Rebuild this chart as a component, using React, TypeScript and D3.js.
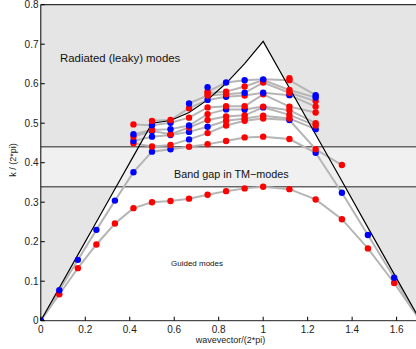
import React from "react";
import * as d3 from "d3";

// k-path positions (wavevector / 2pi)
const kPath = [0, 0.0833, 0.1667, 0.25, 0.3333, 0.4167, 0.5, 0.5833, 0.6667, 0.75, 0.8333, 0.9167, 1.0, 1.118, 1.236, 1.354, 1.471, 1.589, 1.707];

// light line value at each k-point
const lightLine = [0, 0.0833, 0.1667, 0.25, 0.3333, 0.4167, 0.5, 0.5069, 0.527, 0.559, 0.601, 0.651, 0.7071, 0.5893, 0.4714, 0.3536, 0.2357, 0.1179, 0];

// mode frequencies per k-point (sorted ascending)
const freqs: number[][] = [
  [0, 0],
  [0.067, 0.077],
  [0.133, 0.154],
  [0.193, 0.23],
  [0.246, 0.304],
  [0.285, 0.376, 0.449, 0.455, 0.466, 0.472, 0.497],
  [0.3, 0.428, 0.441, 0.466, 0.48, 0.483, 0.495, 0.506],
  [0.303, 0.434, 0.445, 0.47, 0.472, 0.485, 0.501, 0.508],
  [0.309, 0.4405, 0.459, 0.478, 0.489, 0.494, 0.514, 0.538, 0.55],
  [0.319, 0.447, 0.475, 0.491, 0.508, 0.523, 0.54, 0.559, 0.57, 0.576, 0.58, 0.591],
  [0.328, 0.455, 0.494, 0.506, 0.517, 0.535, 0.543, 0.567, 0.573, 0.58, 0.603],
  [0.335, 0.464, 0.506, 0.512, 0.52, 0.535, 0.543, 0.57, 0.577, 0.593, 0.609],
  [0.339, 0.466, 0.512, 0.519, 0.54, 0.542, 0.573, 0.577, 0.603, 0.609, 0.611],
  [0.333, 0.46, 0.508, 0.512, 0.521, 0.533, 0.542, 0.571, 0.577, 0.584, 0.609, 0.614],
  [0.307, 0.425, 0.434, 0.485, 0.494, 0.5, 0.527, 0.542, 0.556, 0.565, 0.571],
  [0.257, 0.324, 0.394],
  [0.183, 0.217],
  [0.0955, 0.109],
  [0, 0],
];

// symmetry of each mode: r = red, b = blue
const parity = [
  "rb", "rb", "rb", "rb", "rb",
  "rbrbrbr", "rbrbbrbr", "rbrbrbbr", "rrbbrbrrb", "rrrbrrrbrrrb",
  "rrrrrbrbrrb", "rrrrrbrrbrb", "rrrrbrrbrrb", "rrbrrrrbrrrr", "rbrbrrrrrbb",
  "rbr", "rb", "rb", "rb",
];

const gapBounds = [0.339, 0.4405];
const xTicks = [0, 0.2, 0.4, 0.6, 0.8, 1, 1.2, 1.4, 1.6];
const yTicks = [0, 0.1, 0.2, 0.3, 0.4, 0.5, 0.6, 0.7, 0.8];

const W = 416;
const H = 349;
const FONT = "'Liberation Sans', Arial, Helvetica, sans-serif";

export default function App() {
  const x = d3.scaleLinear().domain([0, 1.6]).range([40.8, 396.6]);
  const y = d3.scaleLinear().domain([0, 0.8]).range([320.7, 4.7]);
  const left = x(0), right = W, top = y(0.8), bottom = y(0);

  const nBands = d3.max(freqs, (f) => f.length) as number;
  const line = d3.line<[number, number]>().x((d) => x(d[0])).y((d) => y(d[1]));

  // build band segments by rank
  const segs: [number, number][][] = [];
  for (let b = 0; b < nBands; b++) {
    let cur: [number, number][] = [];
    for (let i = 0; i < kPath.length; i++) {
      const v = freqs[i][b];
      if (v === undefined) {
        if (cur.length > 1) segs.push(cur);
        cur = [];
      } else cur.push([kPath[i], v]);
    }
    if (cur.length > 1) segs.push(cur);
  }

  const lightPts: [number, number][] = kPath.map((k, i) => [k, lightLine[i]]);
  const conePath = line(lightPts) + "Z";

  const dots: { k: number; v: number; c: string }[] = [];
  kPath.forEach((k, i) => {
    freqs[i].forEach((v, j) => dots.push({ k, v, c: parity[i][j] === "r" ? "#ff0000" : "#0000ff" }));
  });

  return (
    <svg width={W} height={H} style={{ position: "absolute", left: 0, top: 0, background: "#fff" }}>
      <defs>
        <clipPath id="plot">
          <rect x={left} y={top} width={right - left} height={bottom - top} />
        </clipPath>
      </defs>
      <g clipPath="url(#plot)">
        <rect x={left} y={top} width={right - left} height={bottom - top} fill="#e5e5e5" />
        <path d={conePath} fill="#ffffff" />
        <rect x={left} y={y(gapBounds[1])} width={right - left} height={y(gapBounds[0]) - y(gapBounds[1])} fill="#f0f0f0" />
        {gapBounds.map((g, i) => (
          <line key={i} x1={left} x2={right} y1={y(g)} y2={y(g)} stroke="#666" strokeWidth={1.5} />
        ))}
        {segs.map((s, i) => (
          <path key={i} d={line(s) as string} fill="none" stroke="#b5b5b5" strokeWidth={2} />
        ))}
        <path d={line(lightPts) as string} fill="none" stroke="#000" strokeWidth={1.2} />
        {dots.map((d, i) => (
          <circle key={i} cx={x(d.k)} cy={y(d.v)} r={3.2} fill={d.c} />
        ))}
      </g>
      {/* axes frame */}
      <line x1={left} x2={right} y1={top} y2={top} stroke="#000" strokeWidth={1} />
      <line x1={left} x2={left} y1={top} y2={bottom} stroke="#000" strokeWidth={1} />
      <line x1={left} x2={right} y1={bottom} y2={bottom} stroke="#222" strokeWidth={1} />
      {xTicks.map((t) => (
        <g key={t}>
          <line x1={x(t)} x2={x(t)} y1={bottom} y2={bottom - 4} stroke="#000" />
          <text x={x(t)} y={333} fontSize={10} fontFamily={FONT} textAnchor="middle" fill="#222">
            {String(t)}
          </text>
        </g>
      ))}
      {yTicks.map((t) => (
        <g key={t}>
          <line x1={left} x2={left + 4} y1={y(t)} y2={y(t)} stroke="#000" />
          <text x={38.5} y={y(t) + 3.5} fontSize={10} fontFamily={FONT} textAnchor="end" fill="#222">
            {String(t)}
          </text>
        </g>
      ))}
      <text x={230.5} y={343} fontSize={9} fontFamily={FONT} textAnchor="middle" fill="#222">
        wavevector/(2*pi)
      </text>
      <text transform="translate(16,160) rotate(-90)" fontSize={9} fontFamily={FONT} textAnchor="middle" fill="#222">
        k / (2*pi)
      </text>
      <text x={60} y={62} fontSize={11.4} fontFamily={FONT} fill="#111">
        Radiated (leaky) modes
      </text>
      <text x={174} y={178} fontSize={10.8} fontFamily={FONT} fill="#111">
        Band gap in TM−modes
      </text>
      <text x={197} y={266} fontSize={8} fontFamily={FONT} textAnchor="middle" fill="#111">
        Guided modes
      </text>
    </svg>
  );
}
